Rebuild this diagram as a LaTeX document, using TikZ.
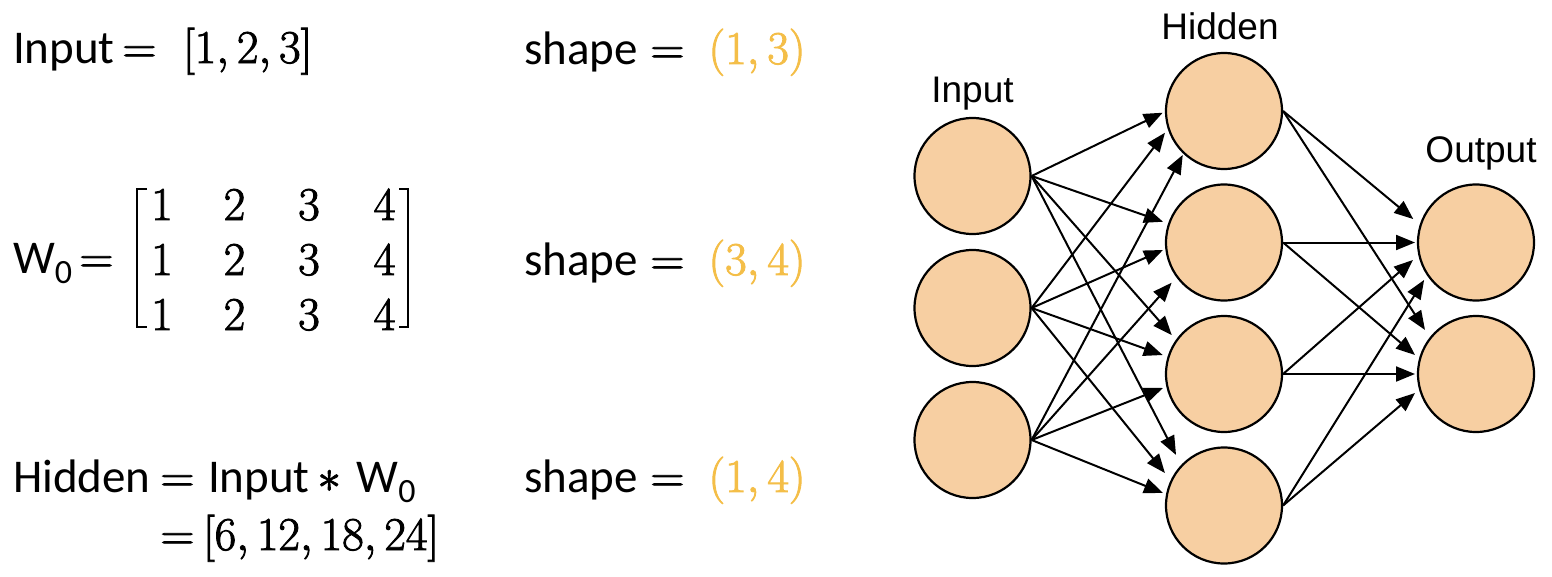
\RequirePackage{fix-cm}
\documentclass[tikz,border=0pt]{standalone}
\usepackage[no-math]{fontspec}
\setmainfont{Carlito}
\newfontfamily\arialf{Liberation Sans}
\usetikzlibrary{arrows.meta,calc}
\definecolor{peach}{HTML}{F7CFA2}
\definecolor{gold}{HTML}{F4BE48}
\newcommand\hv[1]{\special{pdf:literal direct 2 Tr 0.9 w}#1\special{pdf:literal direct 0 Tr}}
\begin{document}
\begin{tikzpicture}[x=1pt,y=-1pt,
  txt/.style={font=\fontsize{47}{56}\selectfont, anchor=base west, inner sep=0pt, outer sep=0pt},
  dig/.style={font=\fontsize{47}{56}\selectfont, anchor=base, inner sep=0pt, outer sep=0pt},
  lbl/.style={font=\arialf\fontsize{37}{44}\selectfont, anchor=base, inner sep=0pt},
  neuron/.style={circle, draw=black, line width=2.2pt, fill=peach, minimum size=116pt, inner sep=0pt},
  arr/.style={line width=2pt, -{Triangle[length=19pt,width=15pt]}},
  brk/.style={line width=2.8pt},
]
\useasboundingbox (0,0) rectangle (1552,576);

% ---- left: equations ----
\node[txt] (inp) at (13,63) {Input};
\node[txt] (eqa) at (122.5,63) {\hv{$=$}};
\node[txt] (vec) at (183,63) {\hv{$[1, 2, 3]$}};

\node[txt] (w) at (13,273) {W\raisebox{-10pt}{\fontsize{34}{40}\selectfont 0}};
\node[txt] (eqb) at (79.5,273) {\hv{$=$}};
\foreach \r/\y in {1/220,2/275,3/330}{
  \node[dig] (m\r a) at (162,\y) {\hv{$1$}};
  \node[dig] (m\r b) at (234.5,\y) {\hv{$2$}};
  \node[dig] (m\r c) at (309,\y) {\hv{$3$}};
  \node[dig] (m\r d) at (384.5,\y) {\hv{$4$}};
}
\draw[brk] (147,189) -- (137,189) -- (137,327) -- (147,327);
\draw[brk] (399,189) -- (408,189) -- (408,327) -- (399,327);

\node[txt] (hid) at (13,492) {Hidden};
\node[txt] (eqc) at (160.5,492) {\hv{$=$}};
\node[txt] (prod) at (208,492) {Input\,\hv{$\ast$}\,\,W\raisebox{-10pt}{\fontsize{34}{40}\selectfont 0}};
\node[txt] (eqd) at (160.5,550) {\hv{$=$}};
\node[txt] (res) at (203,550) {\hv{$[6, 12, 18, 24]$}};

\node[txt] (sa) at (524,64) {shape};
\node[txt] (sae) at (650.5,64) {\hv{$=$}};
\node[txt,text=gold] (sav) at (708.5,64) {\hv{$(1, 3)$}};
\node[txt] (sb) at (524,275) {shape};
\node[txt] (sbe) at (650.5,275) {\hv{$=$}};
\node[txt,text=gold] (sbv) at (708.5,275) {\hv{$(3, 4)$}};
\node[txt] (sc) at (524,492) {shape};
\node[txt] (sce) at (650.5,492) {\hv{$=$}};
\node[txt,text=gold] (scv) at (708.5,492) {\hv{$(1, 4)$}};

% ---- right: network ----
\node[neuron] (i1) at (972.5,176) {};
\node[neuron] (i2) at (972.5,308) {};
\node[neuron] (i3) at (972.5,440) {};
\node[neuron] (h1) at (1224,111) {};
\node[neuron] (h2) at (1224,242.5) {};
\node[neuron] (h3) at (1224,374) {};
\node[neuron] (h4) at (1224,505.5) {};
\node[neuron] (o1) at (1476,242.5) {};
\node[neuron] (o2) at (1476,374) {};

\node[lbl] (lin) at (972.5,102) {Input};
\node[lbl] (lhid) at (1220,39) {Hidden};
\node[lbl] (lout) at (1481,162) {Output};

\draw[arr] (i1.east) -- ($(h1)+(181.6:61.3pt)$);
\draw[arr] (i2.east) -- ($(h1)+(200.2:62.9pt)$);
\draw[arr] (i3.east) -- ($(h1)+(226.8:60.3pt)$);
\draw[arr] (i1.east) -- ($(h2)+(161.2:64.4pt)$);
\draw[arr] (i2.east) -- ($(h2)+(187:61.5pt)$);
\draw[arr] (i3.east) -- ($(h2)+(217.5:66pt)$);
\draw[arr] (i1.east) -- ($(h3)+(143.3:65.2pt)$);
\draw[arr] (i2.east) -- ($(h3)+(162.8:64.2pt)$);
\draw[arr] (i3.east) -- ($(h3)+(192.9:62.6pt)$);
\draw[arr] (i1.east) -- ($(h4)+(133.5:69.7pt)$);
\draw[arr] (i2.east) -- ($(h4)+(151.2:67.4pt)$);
\draw[arr] (i3.east) -- ($(h4)+(168.4:62.3pt)$);

\draw[arr] (h1.east) -- ($(o1)+(159.5:67pt)$);
\draw[arr] (h2.east) -- ($(o1)+(180:61pt)$);
\draw[arr] (h3.east) -- ($(o1)+(195.5:65.4pt)$);
\draw[arr] (h4.east) -- ($(o1)+(215.8:64pt)$);
\draw[arr] (h1.east) -- ($(o2)+(139.2:67.4pt)$);
\draw[arr] (h2.east) -- ($(o2)+(162.7:63.9pt)$);
\draw[arr] (h3.east) -- ($(o2)+(180:61pt)$);
\draw[arr] (h4.east) -- ($(o2)+(197.3:63.9pt)$);
\end{tikzpicture}
\end{document}
